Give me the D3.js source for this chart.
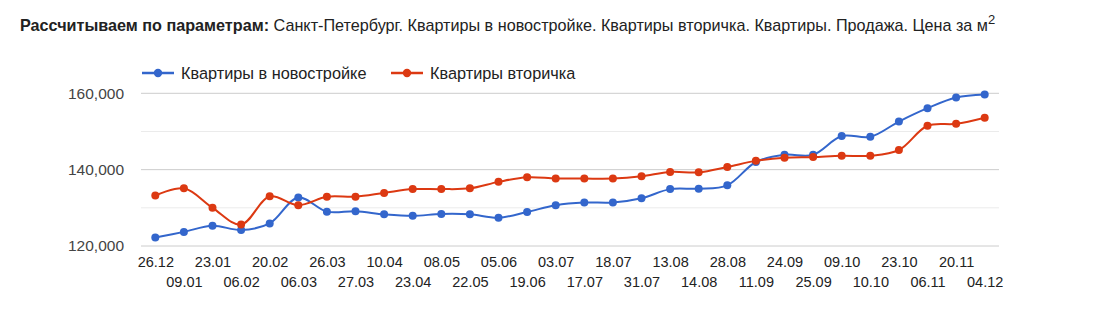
<!DOCTYPE html>
<html><head><meta charset="utf-8">
<script src="https://cdn.jsdelivr.net/npm/d3@7"></script>
<style>
html,body{margin:0;padding:0;background:#fff;}
svg{display:block;font-family:Arial,"Liberation Sans",sans-serif;}
</style></head>
<body>
<svg id="chart" width="1107" height="322"></svg>
<script>
const categories = ["26.12","09.01","23.01","06.02","20.02","06.03","26.03","27.03","10.04","23.04","08.05","22.05","05.06","19.06","03.07","17.07","18.07","31.07","13.08","14.08","28.08","11.09","24.09","25.09","09.10","10.10","23.10","06.11","20.11","04.12"];
const newBuild = [122200,123700,125300,124200,125900,132700,129000,129100,128300,127900,128400,128300,127400,128900,130700,131400,131400,132500,134900,135000,135900,142000,143900,143900,148800,148600,152600,156100,158900,159700];
const resale = [133200,135100,130000,125600,133000,130700,132900,132900,133900,134900,134900,135100,136800,138000,137700,137650,137650,138250,139400,139300,140700,142300,143100,143300,143650,143650,145150,151500,152000,153600];
const seriesNames = ["Квартиры в новостройке","Квартиры вторичка"];
const seriesColors = ["#3366cc","#dc3912"];
const yTicks = [120000,140000,160000];
const yGrid = [120000,130000,140000,150000,160000];

(function(){
const svg = d3.select("#chart");
const pL = 141, pR = 999, pT = 93.3, pB = 246;

// title
const title = svg.append("text").attr("x",20).attr("y",30.5).style("font-size","16.2px").attr("fill","#222");
title.append("tspan").attr("font-weight","bold").text("Рассчитываем по параметрам:");
title.append("tspan").text(" Санкт-Петербург. Квартиры в новостройке. Квартиры вторичка. Квартиры. Продажа. Цена за м");
title.append("tspan").attr("dy",-7).style("font-size","13px").text("2");

const x = d3.scalePoint().domain(categories).range([pL,pR]).padding(0.5);
const y = d3.scaleLinear().domain([120000,160000]).range([pB,pT]);

// grid
svg.append("g").selectAll("line").data(yGrid).join("line")
  .attr("x1",pL).attr("x2",pR)
  .attr("y1",d=>y(d)).attr("y2",d=>y(d))
  .attr("stroke",d=>yTicks.includes(d)?"#cccccc":"#ebebeb").attr("stroke-width",1);

// y axis
const yAxis = d3.axisLeft(y).tickValues(yTicks).tickSize(0).tickPadding(0).tickFormat(d3.format(","));
const ga = svg.append("g").attr("transform",`translate(124,0)`).call(yAxis);
ga.attr("font-size",null).attr("font-family",null);
ga.select(".domain").remove();
ga.selectAll("text").style("font-size","15.5px").attr("fill","#444");

// x axis labels (two rows)
const xAxis = d3.axisBottom(x).tickSize(0).tickPadding(0);
const gx = svg.append("g").attr("transform",`translate(0,${pB})`).call(xAxis);
gx.attr("font-size",null).attr("font-family",null);
gx.select(".domain").remove();
gx.selectAll("text").style("font-size","14.5px").attr("fill","#222")
  .attr("dy",null)
  .attr("y",(d,i)=> i%2===0 ? 21 : 41);

// lines
const line = d3.line().x((d,i)=>x(categories[i])).y(d=>y(d)).curve(d3.curveCatmullRom.alpha(0.5));
[newBuild,resale].forEach((s,k)=>{
  const g = svg.append("g");
  g.append("path").datum(s).attr("d",line).attr("fill","none")
    .attr("stroke",seriesColors[k]).attr("stroke-width",2);
  g.selectAll("circle").data(s).join("circle")
    .attr("cx",(d,i)=>x(categories[i])).attr("cy",d=>y(d)).attr("r",4)
    .attr("fill",seriesColors[k]);
});

// legend
const legendX = [142,391];
seriesNames.forEach((n,k)=>{
  const g = svg.append("g").attr("transform",`translate(${legendX[k]},73)`);
  g.append("line").attr("x1",0).attr("x2",32).attr("stroke",seriesColors[k]).attr("stroke-width",2.5);
  g.append("circle").attr("cx",16).attr("r",4.2).attr("fill",seriesColors[k]);
  g.append("text").attr("x",39).attr("y",0).attr("dy","0.36em").style("font-size","16.3px")
    .attr("fill","#222").text(n);
});
})();
</script>
</body></html>
